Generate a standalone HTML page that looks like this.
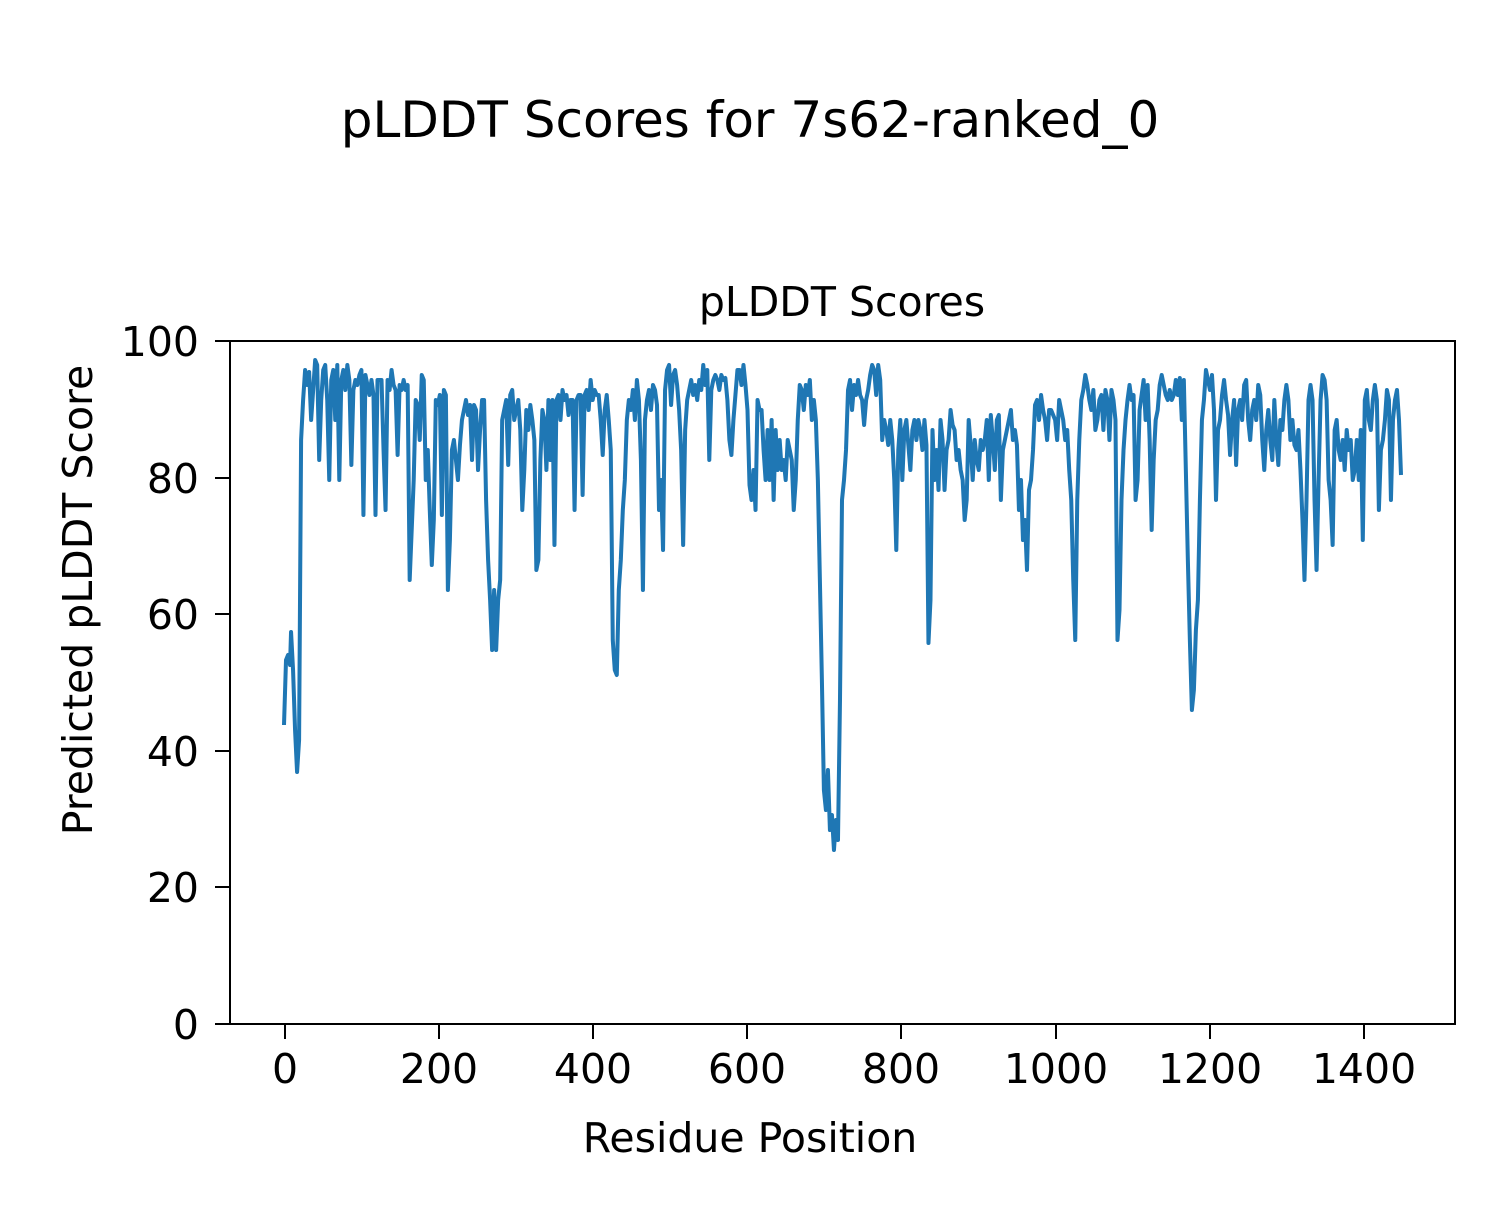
<!DOCTYPE html>
<html><head><meta charset="utf-8"><style>
html,body{margin:0;padding:0;background:#fff;}
svg text{font-family:"DejaVu Sans","Liberation Sans",sans-serif;fill:#000;}
</style></head><body>
<svg width="1500" height="1200" xmlns="http://www.w3.org/2000/svg">
<rect width="1500" height="1200" fill="#fff"/>
<text x="750" y="137" font-size="50" text-anchor="middle">pLDDT Scores for 7s62-ranked_0</text>
<text x="842" y="316" font-size="41" text-anchor="middle">pLDDT Scores</text>
<g transform="translate(-1.53,0) scale(1.0054,1)">
<polyline fill="none" stroke="#1f77b4" stroke-width="4" stroke-linejoin="round" points="284,725 286,660 288,655 290,665 291,632 293,670 295,730 297,772 299,740 301,440 303,400 305,370 307,385 309,372 311,420 313,390 315,360 317,365 319,460 321,400 323,370 325,365 327,400 329,480 331,380 333,370 335,420 337,365 339,480 341,380 343,370 345,390 347,365 349,380 351,465 353,390 355,380 357,385 359,375 361,370 363,515 365,375 367,385 369,395 371,380 373,395 375,515 377,380 379,380 381,380 383,450 385,510 387,380 389,390 391,370 393,385 395,390 397,455 399,385 401,390 403,380 405,390 407,385 409,580 411,530 413,480 415,400 417,405 419,440 421,375 423,380 425,480 427,450 429,510 431,565 433,520 435,400 437,405 439,395 441,515 443,390 445,395 447,590 449,540 451,450 453,440 455,460 457,480 459,445 461,420 463,410 465,400 467,415 469,405 471,460 473,405 475,410 477,470 479,430 481,400 483,400 485,500 487,560 489,600 491,650 493,590 495,650 497,600 499,580 501,420 503,410 505,400 507,465 509,395 511,390 513,420 515,410 517,400 519,430 521,510 523,470 525,410 527,430 529,405 531,420 533,440 535,570 537,560 539,460 541,410 543,420 545,470 547,400 549,460 551,400 553,545 555,400 557,395 559,420 561,390 563,400 565,395 567,415 569,400 571,400 573,510 575,400 577,395 579,395 581,495 583,395 585,390 587,410 589,380 591,400 593,390 595,395 597,395 599,420 601,455 603,410 605,395 607,420 609,450 611,640 613,670 615,675 617,590 619,560 621,510 623,480 625,420 627,400 629,410 631,390 633,420 635,380 637,400 639,460 641,590 643,420 645,400 647,390 649,410 651,385 653,390 655,405 657,510 659,480 661,550 663,390 665,370 667,365 669,405 671,375 673,370 675,385 677,410 679,450 681,545 683,430 685,400 687,390 689,380 691,395 693,385 695,400 697,380 699,390 701,365 703,385 705,370 707,460 709,390 711,380 713,375 715,380 717,390 719,375 721,380 723,378 725,400 727,440 729,455 731,420 733,395 735,370 737,370 739,385 741,365 743,385 745,410 747,485 749,500 751,470 753,510 755,400 757,410 759,410 761,450 763,480 765,430 767,480 769,420 771,500 773,430 775,470 777,440 779,470 781,460 783,480 785,440 787,450 789,460 791,510 793,480 795,420 797,385 799,390 801,410 803,385 805,395 807,380 809,420 811,400 813,420 815,480 817,580 819,680 821,790 823,810 825,770 827,830 829,815 831,850 833,820 835,840 837,700 839,500 841,480 843,450 845,390 847,380 849,410 851,385 853,395 855,380 857,395 859,400 861,425 863,400 865,390 867,375 869,365 871,370 873,395 875,365 877,380 879,440 881,420 883,430 885,445 887,420 889,440 891,480 893,550 895,450 897,420 899,480 901,430 903,420 905,445 907,470 909,430 911,420 913,440 915,420 917,430 919,450 921,420 923,445 925,643 927,600 929,430 931,480 933,450 935,490 937,420 939,440 941,490 943,450 945,440 947,410 949,425 951,430 953,460 955,450 957,470 959,480 961,520 963,500 965,420 967,445 969,480 971,440 973,460 975,470 977,440 979,450 981,440 983,420 985,480 987,415 989,440 991,470 993,420 995,415 997,500 999,450 1001,440 1003,430 1005,420 1007,410 1009,440 1011,430 1013,445 1015,510 1017,480 1019,540 1021,520 1023,570 1025,490 1027,480 1029,450 1031,405 1033,400 1035,420 1037,395 1039,410 1041,420 1043,440 1045,410 1047,410 1049,415 1051,420 1053,440 1055,400 1057,410 1059,420 1061,440 1063,430 1065,470 1067,500 1069,580 1071,640 1073,500 1075,440 1077,400 1079,390 1081,375 1083,385 1085,400 1087,410 1089,390 1091,430 1093,420 1095,400 1097,395 1099,430 1101,390 1103,400 1105,440 1107,390 1109,400 1111,420 1113,640 1115,610 1117,500 1119,450 1121,420 1123,400 1125,385 1127,400 1129,395 1131,500 1133,480 1135,410 1137,395 1139,380 1141,420 1143,385 1145,440 1147,530 1149,460 1151,420 1153,410 1155,385 1157,375 1159,385 1161,395 1163,400 1165,390 1167,400 1169,395 1171,380 1173,395 1175,378 1177,420 1179,380 1181,470 1183,560 1185,640 1187,710 1189,690 1191,630 1193,600 1195,500 1197,420 1199,400 1201,370 1203,380 1205,390 1207,375 1209,410 1211,500 1213,430 1215,420 1217,395 1219,380 1221,400 1223,415 1225,455 1227,420 1229,400 1231,465 1233,410 1235,400 1237,420 1239,385 1241,380 1243,420 1245,440 1247,410 1249,400 1251,420 1253,385 1255,395 1257,440 1259,470 1261,430 1263,410 1265,440 1267,460 1269,400 1271,440 1273,465 1275,420 1277,430 1279,400 1281,385 1283,400 1285,440 1287,420 1289,445 1291,450 1293,430 1295,470 1297,520 1299,580 1301,500 1303,400 1305,385 1307,400 1309,500 1311,570 1313,480 1315,400 1317,375 1319,380 1321,400 1323,480 1325,500 1327,545 1329,430 1331,420 1333,450 1335,460 1337,440 1339,470 1341,430 1343,450 1345,440 1347,480 1349,470 1351,440 1353,480 1355,430 1357,540 1359,400 1361,390 1363,420 1365,430 1367,400 1369,385 1371,400 1373,510 1375,450 1377,440 1379,420 1381,390 1383,400 1385,500 1387,420 1389,400 1391,390 1393,420 1395,475"/>
</g>
<rect x="230" y="341" width="1225" height="683" fill="none" stroke="#000" stroke-width="2"/>
<g stroke="#000" stroke-width="2">
<line x1="215" y1="1024" x2="230" y2="1024"/><line x1="215" y1="887" x2="230" y2="887"/><line x1="215" y1="751" x2="230" y2="751"/><line x1="215" y1="614" x2="230" y2="614"/><line x1="215" y1="478" x2="230" y2="478"/><line x1="215" y1="341" x2="230" y2="341"/>
<line x1="285" y1="1024" x2="285" y2="1039"/><line x1="439" y1="1024" x2="439" y2="1039"/><line x1="593" y1="1024" x2="593" y2="1039"/><line x1="747" y1="1024" x2="747" y2="1039"/><line x1="901" y1="1024" x2="901" y2="1039"/><line x1="1056" y1="1024" x2="1056" y2="1039"/><line x1="1210" y1="1024" x2="1210" y2="1039"/><line x1="1364" y1="1024" x2="1364" y2="1039"/>
</g>
<g font-size="41" text-anchor="end">
<text x="199" y="1039">0</text><text x="199" y="902">20</text><text x="199" y="766">40</text><text x="199" y="629">60</text><text x="199" y="493">80</text><text x="199" y="356">100</text>
</g>
<g font-size="41" text-anchor="middle">
<text x="285" y="1083">0</text><text x="439" y="1083">200</text><text x="593" y="1083">400</text><text x="747" y="1083">600</text><text x="901" y="1083">800</text><text x="1056" y="1083">1000</text><text x="1210" y="1083">1200</text><text x="1364" y="1083">1400</text>
</g>
<text x="750" y="1152" font-size="41" text-anchor="middle">Residue Position</text>
<text transform="translate(92,600) rotate(-90)" font-size="41" text-anchor="middle">Predicted pLDDT Score</text>
</svg>
</body></html>
